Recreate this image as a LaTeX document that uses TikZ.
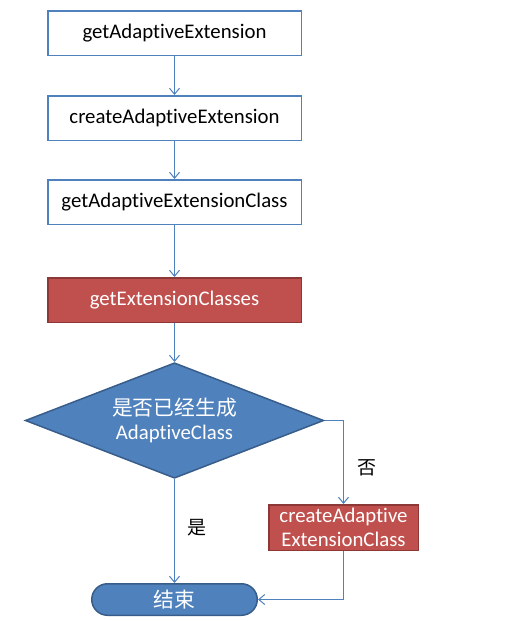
\documentclass[tikz,border=0pt]{standalone}
\usepackage{fontspec}
\setmainfont{Carlito}[RawFeature={-liga;-clig;-calt;-dlig}]
\newfontfamily\cjk{Noto Sans CJK SC}
\usetikzlibrary{positioning, arrows.meta, shapes.geometric, shapes.misc}
\definecolor{lineblue}{RGB}{79,129,189}
\definecolor{darkblue}{RGB}{56,93,138}
\definecolor{brick}{RGB}{192,80,77}
\definecolor{darkbrick}{RGB}{140,56,54}

\begin{document}
\begin{tikzpicture}[x=1pt, y=-1pt, >={Straight Barb[length=6pt, width=10pt]},
          font=\fontsize{20.8}{24}\selectfont,
          s/.style={draw=lineblue, line width=1.5pt, fill=white, inner sep=0pt,
                    minimum width=253.5pt, minimum height=44.5pt},
          a/.style={draw=darkbrick, line width=1.5pt, fill=brick, text=white,
                    inner sep=0pt, align=center, minimum width=253.5pt, minimum height=44.5pt},
          d/.style={diamond, aspect=2.56, draw=darkblue, line width=1.5pt, fill=lineblue,
                    text=white, inner sep=0pt, align=center,
                    minimum width=298.5pt, minimum height=115.5pt},
          e/.style={rounded rectangle, draw=darkblue, line width=1.5pt, fill=lineblue,
                    text=white, inner sep=2pt, minimum width=169.5pt, minimum height=31.5pt},
          c/.style={->, lineblue, line width=1pt},
          yn/.style={font=\cjk\fontsize{19}{20}\selectfont}]
        \useasboundingbox (0,0) rectangle (532,621);
        \node[s] (gae) at (174.5,33) {getAdaptiveExtension};
        \node[s, below=39pt of gae] (cae) {createAdaptiveExtension};
        \node[s, below=38pt of cae] (gaec) {getAdaptiveExtensionClass};
        \node[a, below=52pt of gaec] (gec) {getExtensionClasses};
        \node[d, below=39pt of gec] (done) {{\cjk 是否已经生成}\\AdaptiveClass};
        \node[a, minimum width=149.5pt, minimum height=45.5pt] (caec) at (343.5,527.5)
            {createAdaptive\\ExtensionClass};
        \node[e, below=104pt of done] (stop) {\cjk 结束};
        \node[yn] (yes) at (197,528) {是};
        \node[yn] (no) at (367,468) {否};
        % flow
        \draw[c] (gae) -- (cae);
        \draw[c] (cae) -- (gaec);
        \draw[c] (gaec) -- (gec);
        \draw[c] (gec) -- (done);
        \draw[c] (done) -- (stop);
        \draw[c] (done.east) -| (caec.north);
        \draw[c] (caec.south) |- (stop.east);
      \end{tikzpicture}
\end{document}
